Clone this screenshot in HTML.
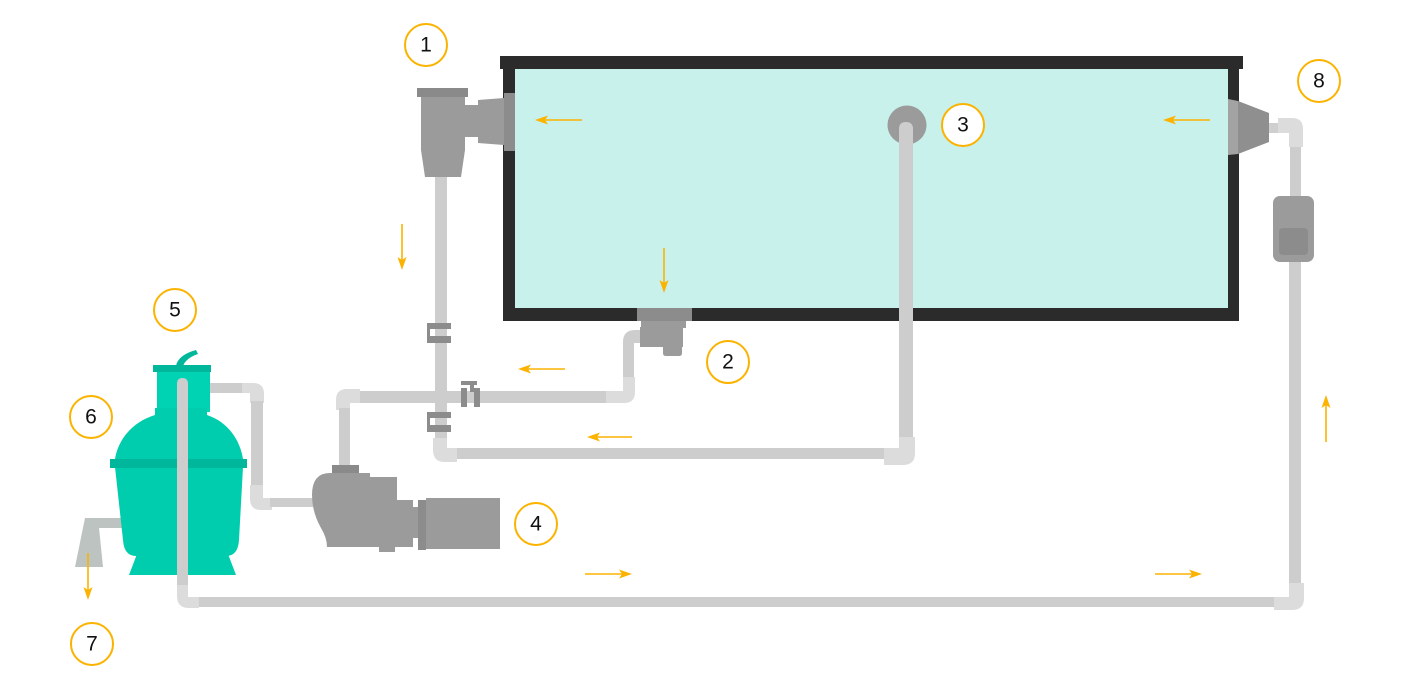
<!DOCTYPE html>
<html><head><meta charset="utf-8"><style>
html,body{margin:0;padding:0;background:#fff;}
svg{display:block;}
text{font-family:"Liberation Sans",sans-serif;font-size:21px;fill:#111;text-anchor:middle;dominant-baseline:central;}
</style></head><body>
<svg width="1418" height="683" viewBox="0 0 1418 683" xmlns="http://www.w3.org/2000/svg">
<rect width="1418" height="683" fill="#fff"/>

<!-- Pool -->
<rect x="515" y="69" width="713" height="239" fill="#c8f1eb"/>
<rect x="500" y="56" width="743" height="13" fill="#2b2b2b"/>
<rect x="503" y="56" width="12" height="265" fill="#2b2b2b"/>
<rect x="1228" y="56" width="11" height="265" fill="#2b2b2b"/>
<rect x="503" y="308" width="736" height="13" fill="#2b2b2b"/>

<!-- Skimmer 1 -->
<rect x="435" y="175" width="12" height="265" fill="#cdcdcd"/>
<rect x="504" y="93" width="11" height="58" fill="#8c8c8c"/>
<polygon points="478,100 504,98 504,145 478,143" fill="#9b9b9b"/>
<rect x="464" y="105" width="15" height="32" fill="#9b9b9b"/>
<path d="M421,97 L465,97 L465,150 L461,177 L425,177 L421,150 Z" fill="#9b9b9b"/>
<rect x="417" y="88" width="51" height="9" fill="#8a8a8a"/>

<!-- Skimmer 8 -->
<polygon points="1238,101 1269,113 1269,142 1238,154" fill="#8f8f8f"/>
<polygon points="1228,99 1238,101 1238,154 1228,155" fill="#a3a3a3"/>
<rect x="1269" y="123" width="10" height="10" fill="#cfcfcf"/>
<rect x="1290" y="140" width="11" height="60" fill="#cdcdcd"/>
<path d="M1278,118 L1292,118 Q1303,118 1303,129 L1303,147 L1289,147 L1289,133 L1278,133 Z" fill="#dcdcdc"/>
<rect x="1289" y="258" width="12" height="330" fill="#cdcdcd"/>
<rect x="1273" y="196" width="41" height="66" rx="7" fill="#9b9b9b"/>
<rect x="1279" y="228" width="29" height="27" rx="4" fill="#8c8c8c"/>

<!-- Valve 3 -->
<circle cx="907" cy="125" r="19.5" fill="#9b9b9b"/>
<path d="M899,447 L899,129 Q899,122 906,122 Q913,122 913,129 L913,447 Z" fill="#cdcdcd"/>

<!-- Bottom return from valve 3 -->
<rect x="455" y="448" width="432" height="11" fill="#cdcdcd"/>
<path d="M884,448 L899,448 L899,437 L915,437 L915,453 Q915,465 903,465 L884,465 Z" fill="#dcdcdc"/>
<path d="M433,438 L447,438 L447,448 L457,448 L457,462 L445,462 Q433,462 433,450 Z" fill="#dcdcdc"/>

<!-- clamps on vertical pipe -->
<g fill="#8c8c8c">
<rect x="430" y="323" width="21" height="6"/>
<rect x="430" y="336" width="21" height="7"/>
<rect x="427" y="323" width="3" height="20"/>
<rect x="430" y="412" width="21" height="6"/>
<rect x="430" y="425" width="21" height="7"/>
<rect x="427" y="412" width="3" height="20"/>
</g>

<!-- Middle pipe -->
<rect x="358" y="391" width="250" height="12" fill="#cdcdcd"/>
<path d="M336,410 L336,400 Q336,389 347,389 L360,389 L360,403 L350,403 L350,410 Z" fill="#dcdcdc"/>
<rect x="339" y="408" width="11" height="58" fill="#cdcdcd"/>
<path d="M623,377 L623,342 Q623,330 635,330 L642,330 L642,343 L634,343 L634,377 Z" fill="#cdcdcd"/>
<path d="M606,391 L623,391 L623,377 L635,377 L635,392 Q635,403 624,403 L606,403 Z" fill="#dcdcdc"/>
<!-- valve on middle pipe -->
<g fill="#8c8c8c">
<rect x="461" y="388" width="6" height="19"/>
<rect x="474" y="388" width="6" height="19"/>
<rect x="461" y="381" width="16" height="4"/>
<rect x="470" y="384" width="4" height="8"/>
</g>

<!-- Skimmer 2 -->
<rect x="637" y="308" width="55" height="13" fill="#8c8c8c"/>
<rect x="641" y="321" width="45" height="7" fill="#9b9b9b"/>
<rect x="640" y="327" width="43" height="20" fill="#9b9b9b"/>
<path d="M663,346 L682,346 L682,353 Q682,356 679,356 L666,356 Q663,356 663,353 Z" fill="#9b9b9b"/>

<!-- Filter pipes -->
<rect x="208" y="383" width="36" height="10" fill="#cdcdcd"/>
<path d="M242,383 L253,383 Q264,383 264,394 L264,403 L250,403 L250,393 L242,393 Z" fill="#dcdcdc"/>
<rect x="251" y="401" width="12" height="86" fill="#cdcdcd"/>
<path d="M250,485 L263,485 L263,498 L272,498 L272,510 L261,510 Q250,510 250,499 Z" fill="#dcdcdc"/>
<rect x="270" y="498" width="45" height="9" fill="#cdcdcd"/>

<!-- Drain -->
<rect x="85" y="518" width="38" height="10" fill="#bcc3c1"/>
<polygon points="85,518 98,518 103,567 75,567" fill="#bcc3c1"/>

<!-- Filter -->
<path d="M176,366 Q178,355 196,350 L198,354 Q186,358 183,366 Z" fill="#00b79c"/>
<rect x="157" y="372" width="53" height="40" fill="#00d3b3"/>
<rect x="155" y="408" width="52" height="8" fill="#00cdae"/>
<path d="M155,415 L207,415 C228,422 240,440 243,459 L115,459 C118,440 132,422 155,415 Z" fill="#00cdae"/>
<path d="M115,467 L243,467 L239,540 Q238,556 226,556 L136,556 Q124,556 123,540 Z" fill="#00cdae"/>
<polygon points="137,554 228,554 236,575 129,575" fill="#00cdae"/>
<rect x="110" y="459" width="137" height="9" fill="#00b79c"/>
<rect x="153" y="365" width="58" height="7" fill="#00b79c"/>

<!-- Vertical pipe through filter & bottom return -->
<path d="M177,590 L177,384 Q177,378 182.5,378 Q188,378 188,384 L188,590 Z" fill="#cdcdcd"/>
<rect x="197" y="597" width="1079" height="10" fill="#cdcdcd"/>
<path d="M177,585 L188,585 L188,597 L199,597 L199,608 L189,608 Q177,608 177,596 Z" fill="#dcdcdc"/>
<path d="M1274,597 L1289,597 L1289,583 L1304,583 L1304,598 Q1304,610 1292,610 L1274,610 Z" fill="#dcdcdc"/>

<!-- Pump -->
<rect x="332" y="465" width="27" height="8" fill="#8a8a8a"/>
<path d="M330,473 L370,473 L370,477 L397,477 L397,500 L413,500 L413,547 L327,547 Q327,538 321,528 Q312,512 312,495 Q312,473 330,473 Z" fill="#9b9b9b"/>
<rect x="379" y="546" width="16" height="6" fill="#9b9b9b"/>
<rect x="412" y="507" width="7" height="31" fill="#9b9b9b"/>
<rect x="418" y="500" width="8" height="50" fill="#8c8c8c"/>
<rect x="426" y="498" width="74" height="51" fill="#9b9b9b"/>

<!-- Arrows -->
<g stroke="#fbb300" stroke-width="1.6" fill="none">
<line x1="582" y1="120" x2="544" y2="120"/>
<line x1="1210" y1="120" x2="1172" y2="120"/>
<line x1="402" y1="224" x2="402" y2="261"/>
<line x1="664" y1="248" x2="664" y2="284"/>
<line x1="565" y1="369" x2="527" y2="369"/>
<line x1="632" y1="437" x2="596" y2="437"/>
<line x1="585" y1="574" x2="623" y2="574"/>
<line x1="1155" y1="574" x2="1193" y2="574"/>
<line x1="1326" y1="442" x2="1326" y2="404"/>
<line x1="88" y1="553" x2="88" y2="591"/>
</g>
<g fill="#fbb300">
<polygon points="535,120 548,115.5 545,120 548,124.5"/>
<polygon points="1163,120 1176,115.5 1173,120 1176,124.5"/>
<polygon points="402,270 397.5,257 402,260 406.5,257"/>
<polygon points="664,293 659.5,280 664,283 668.5,280"/>
<polygon points="518,369 531,364.5 528,369 531,373.5"/>
<polygon points="587,437 600,432.5 597,437 600,441.5"/>
<polygon points="632,574 619,569.5 622,574 619,578.5"/>
<polygon points="1202,574 1189,569.5 1192,574 1189,578.5"/>
<polygon points="1326,395 1321.5,408 1326,405 1330.5,408"/>
<polygon points="88,600 83.5,587 88,590 92.5,587"/>
</g>

<!-- Labels -->
<g fill="#fff" stroke="#fbb300" stroke-width="2">
<circle cx="426" cy="45" r="21"/>
<circle cx="728" cy="362" r="21"/>
<circle cx="963" cy="125" r="21"/>
<circle cx="536" cy="524" r="21"/>
<circle cx="175" cy="310" r="21"/>
<circle cx="91" cy="417" r="21"/>
<circle cx="92" cy="644" r="21"/>
<circle cx="1319" cy="81" r="21"/>
</g>
<text x="426" y="45">1</text>
<text x="728" y="362">2</text>
<text x="963" y="125">3</text>
<text x="536" y="524">4</text>
<text x="175" y="310">5</text>
<text x="91" y="417">6</text>
<text x="92" y="644">7</text>
<text x="1319" y="81">8</text>
</svg>
</body></html>
